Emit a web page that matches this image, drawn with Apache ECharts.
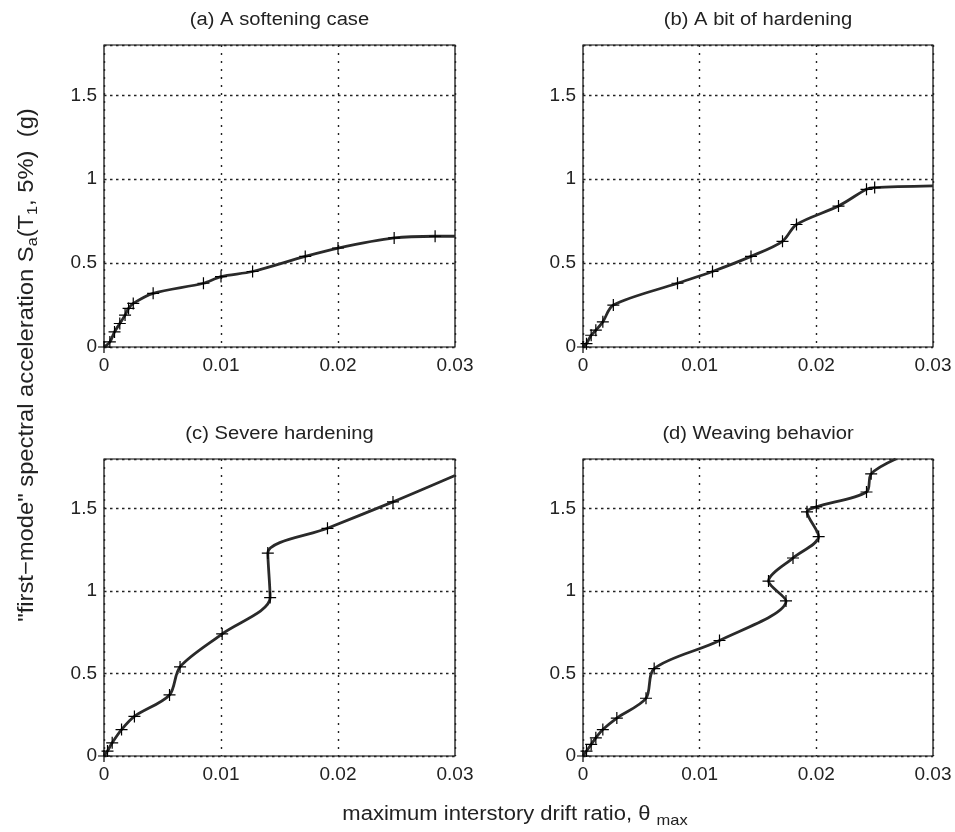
<!DOCTYPE html>
<html lang="en">
<head>
<meta charset="UTF-8">
<title>IDA curves</title>
<style>
  html, body { margin: 0; padding: 0; background: #fff; }
  #chart { width: 955px; height: 832px; }
</style>
</head>
<body>
<div id="chart"></div>
<script src="https://cdn.jsdelivr.net/npm/echarts@6/dist/echarts.min.js"></script>
<script>
// panel titles
const titles = ['(a) A softening case', '(b) A bit of hardening', '(c) Severe hardening', '(d) Weaving behavior'];

// (a) softening
const softX = [0, 0.0005, 0.0009, 0.00135, 0.0018, 0.0021, 0.0025, 0.0042, 0.0085, 0.0100, 0.0127, 0.0172, 0.0200, 0.0248, 0.0283, 0.0300];
const softY = [0, 0.03, 0.09, 0.14, 0.19, 0.23, 0.26, 0.32, 0.38, 0.42, 0.45, 0.54, 0.59, 0.65, 0.66, 0.66];

// (b) a bit of hardening
const bitX = [0, 0.0003, 0.0007, 0.0011, 0.0017, 0.0026, 0.0081, 0.0111, 0.0144, 0.0171, 0.0183, 0.0219, 0.0243, 0.0250, 0.0300];
const bitY = [0, 0.02, 0.07, 0.10, 0.15, 0.25, 0.38, 0.45, 0.54, 0.63, 0.73, 0.84, 0.94, 0.95, 0.96];

// (c) severe hardening
const sevX = [0, 0.0003, 0.0007, 0.0015, 0.0026, 0.0056, 0.0065, 0.0101, 0.0142, 0.0140, 0.0191, 0.0247, 0.0300];
const sevY = [0, 0.03, 0.08, 0.16, 0.24, 0.37, 0.54, 0.74, 0.96, 1.23, 1.38, 1.54, 1.70];

// (d) weaving
const weaveX = [0, 0.0003, 0.0007, 0.0011, 0.0017, 0.0029, 0.0054, 0.0061, 0.0117, 0.0174, 0.0159, 0.0180, 0.0202, 0.0192, 0.0200, 0.0243, 0.0247, 0.0268];
const weaveY = [0, 0.03, 0.07, 0.11, 0.16, 0.23, 0.35, 0.53, 0.70, 0.94, 1.06, 1.20, 1.33, 1.48, 1.51, 1.60, 1.71, 1.80];

const xTicks = [0, 0.01, 0.02, 0.03];
const yTicks = [0, 0.5, 1, 1.5];

const curves = [[softX, softY], [bitX, bitY], [sevX, sevY], [weaveX, weaveY]];

// grid boxes in pixels
const boxes = [
  { left: 104, top: 45, width: 351, height: 302 },
  { left: 583, top: 45, width: 350, height: 302 },
  { left: 104, top: 459, width: 351, height: 297 },
  { left: 583, top: 459, width: 350, height: 297 }
];

const font = '"Liberation Sans", Arial, sans-serif';
const plus = 'path://M0,5L10,5M5,0L5,10';

function tickLabel(list) {
  return function (v) {
    for (const t of list) {
      if (Math.abs(v - t) < 1e-9) return String(t);
    }
    return '';
  };
}

const grid = [], xAxis = [], yAxis = [], series = [], graphic = [];

boxes.forEach((b, i) => {
  grid.push(Object.assign({ show: true, borderColor: '#000', borderWidth: 1.2, backgroundColor: '#fff' }, b));
  xAxis.push({
    gridIndex: i, type: 'value', min: 0, max: 0.03, interval: 0.01,
    axisLine: { show: false }, axisTick: { show: false },
    splitLine: { show: true, lineStyle: { color: '#222', type: [2, 6], width: 1.4 } },
    axisLabel: { margin: 9, fontSize: 19, color: '#222', fontFamily: font, formatter: tickLabel(xTicks) }
  });
  yAxis.push({
    gridIndex: i, type: 'value', min: 0, max: 1.8, interval: 0.5,
    axisLine: { show: false }, axisTick: { show: false },
    splitLine: { show: true, lineStyle: { color: '#222', type: [2.5, 3.5], width: 1.4 } },
    axisLabel: { margin: 7, fontSize: 19, color: '#222', fontFamily: font, formatter: tickLabel(yTicks) }
  });
  const xs = curves[i][0], ys = curves[i][1];
  series.push({
    type: 'line', xAxisIndex: i, yAxisIndex: i,
    smooth: 0.3, clip: true,
    symbol: plus, symbolSize: 12,
    itemStyle: { color: '#000', borderColor: '#000', borderWidth: 1.2 },
    lineStyle: { color: '#2a2a2a', width: 2.8 },
    data: xs.map((x, k) => ({ value: [x, ys[k]], symbol: k === xs.length - 1 ? 'none' : plus }))
  });
  graphic.push({
    type: 'text', x: b.left + b.width / 2, y: b.top - 25, scaleX: 1.12,
    style: { text: titles[i], font: '18px ' + font, fill: '#222', align: 'center', verticalAlign: 'middle' }
  });
});

graphic.push({
  type: 'text', x: 27, y: 365, rotation: Math.PI / 2, scaleX: 1.08,
  style: {
    text: '"first\u2212mode" spectral acceleration S{sub|a}(T{sub|1}, 5%)  (g)',
    font: '22px ' + font, fill: '#222', align: 'center', verticalAlign: 'middle', lineHeight: 26,
    rich: { sub: { fontSize: 15, fontFamily: font, lineHeight: 8, verticalAlign: 'bottom', fill: '#222' } }
  }
});
graphic.push({
  type: 'text', x: 515, y: 814, scaleX: 1.1,
  style: {
    text: 'maximum interstory drift ratio, \u03b8 {sub|max}',
    font: '20px ' + font, fill: '#222', align: 'center', verticalAlign: 'middle', lineHeight: 28,
    rich: { sub: { fontSize: 15, fontFamily: font, lineHeight: 6, verticalAlign: 'bottom', fill: '#222' } }
  }
});

const chart = echarts.init(document.getElementById('chart'));
chart.setOption({
  animation: false,
  backgroundColor: '#fff',
  grid, xAxis, yAxis, series, graphic
});
</script>
</body>
</html>
